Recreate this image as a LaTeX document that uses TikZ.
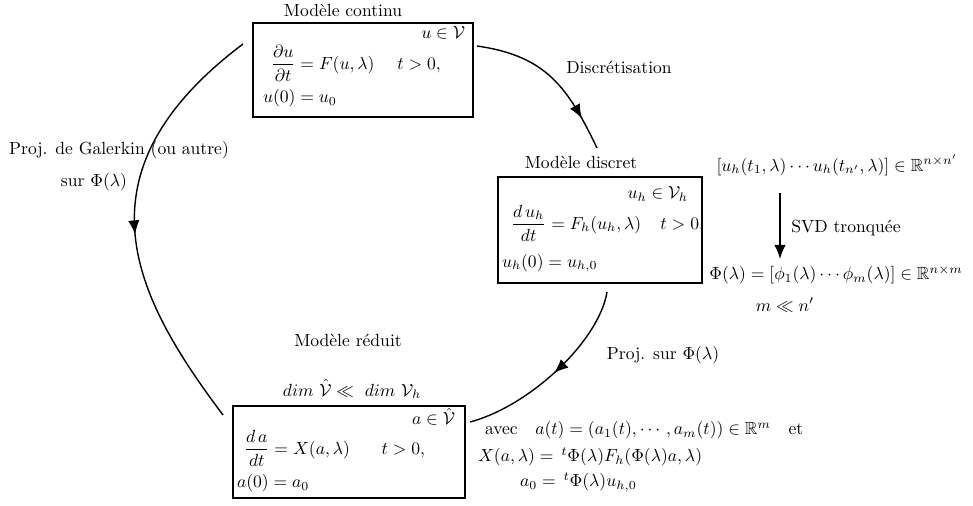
\documentclass[tikz,border=0pt]{standalone}
\usepackage{amsmath,amssymb}
\usetikzlibrary{arrows.meta,decorations.markings}
\begin{document}
\begin{tikzpicture}[x=0.02cm,y=-0.02cm,
  txt/.style={inner sep=0pt,outer sep=0pt},
  modelbox/.style={draw,line width=1pt,inner sep=0pt},
  flow/.style={line width=0.8pt},
  tipstyle/.style={-{Latex[length=8pt,width=6.5pt]}},
  midarrow/.style={postaction={decorate,decoration={markings,mark=at position #1 with {\arrow{Latex[length=8pt,width=6.5pt]}}}}}]
\useasboundingbox (0,0) rectangle (973,506);

% Modele continu
\node[txt] (ctitle) at (343,10) {Modèle continu};
\node[modelbox,minimum width=4.4cm,minimum height=1.88cm] (cbox) at (363,70) {};
\node[txt,anchor=east] (cV) at (465,33) {$u\in\mathcal{V}$};
\node[txt,anchor=west] (ceq) at (271,63) {$\dfrac{\partial u}{\partial t} = F(u,\lambda)\hspace{13pt}t>0,$};
\node[txt,anchor=west] (c0) at (263,98) {$u(0)=u_0$};

% Modele discret
\node[txt] (dtitle) at (581,162) {Modèle discret};
\node[modelbox,minimum width=4.08cm,minimum height=2.12cm] (dbox) at (600,230) {};
\node[txt,anchor=east] (dV) at (688,194) {$u_h\in\mathcal{V}_h$};
\node[txt,anchor=west] (deq) at (511,223) {$\dfrac{d\,u_h}{dt} = F_h(u_h,\lambda)\hspace{11pt}t>0,$};
\node[txt,anchor=west] (d0) at (502,263) {$u_h(0)=u_{h,0}$};

% Modele reduit
\node[txt] (rtitle) at (348,340) {Modèle réduit};
\node[txt] (rdim) at (352,389) {$dim\ \hat{\mathcal{V}}\ll\ dim\ \mathcal{V}_h$};
\node[modelbox,minimum width=4.64cm,minimum height=1.84cm] (rbox) at (349,452) {};
\node[txt,anchor=east] (rV) at (455,417) {$a\in\hat{\mathcal{V}}$};
\node[txt,anchor=west] (req) at (244,448) {$\dfrac{d\,a}{dt} = X(a,\lambda)\hspace{18pt}t>0,$};
\node[txt,anchor=west] (r0) at (237,483) {$a(0)=a_0$};

% SVD part
\node[txt] (snap) at (837,165) {$[u_h(t_1,\lambda)\cdots u_h(t_{n'},\lambda)]\in\mathbb{R}^{n\times n'}$};
\node[txt] (svd) at (846,228) {SVD tronquée};
\node[txt] (phi) at (836,275) {$\Phi(\lambda)=[\phi_1(\lambda)\cdots\phi_m(\lambda)]\in\mathbb{R}^{n\times m}$};
\node[txt] (mll) at (785,305) {$m\ll n'$};
\coordinate (svs) at (780,193);
\coordinate (sve) at (780,259);
\draw[flow,tipstyle] (svs) -- (sve);

% labels
\node[txt] (ldisc) at (619,67) {Discrétisation};
\node[txt] (lproj) at (663,355) {Proj. sur $\Phi(\lambda)$};
\node[txt] (lgal1) at (119,150) {Proj. de Galerkin (ou autre)};
\node[txt] (lgal2) at (94,182) {sur $\Phi(\lambda)$};

% reduced model details
\node[txt,anchor=west] (avec) at (485,430) {avec\quad $a(t)=(a_1(t),\cdots,a_m(t))\in\mathbb{R}^m$\quad et};
\node[txt,anchor=west] (xdef) at (478,457) {$X(a,\lambda)=\,{}^t\Phi(\lambda)F_h(\Phi(\lambda)a,\lambda)$};
\node[txt,anchor=west] (a0def) at (520,482) {$a_0=\,{}^t\Phi(\lambda)u_{h,0}$};

% curves
\coordinate (k1s) at (477,46);
\coordinate (k1e) at (597,148);
\draw[flow,midarrow=0.8] (k1s) .. controls (547,56) and (568,88) .. (k1e);

\coordinate (k2s) at (607,292);
\coordinate (k2e) at (470,422);
\draw[flow,midarrow=0.5] (k2s) .. controls (599,341) and (530,406) .. (k2e);

\coordinate (k3s) at (243,44);
\coordinate (k3e) at (223,415);
\draw[flow,midarrow=0.53] (k3s) .. controls (69,175) and (136,299) .. (k3e);
\end{tikzpicture}
\end{document}
